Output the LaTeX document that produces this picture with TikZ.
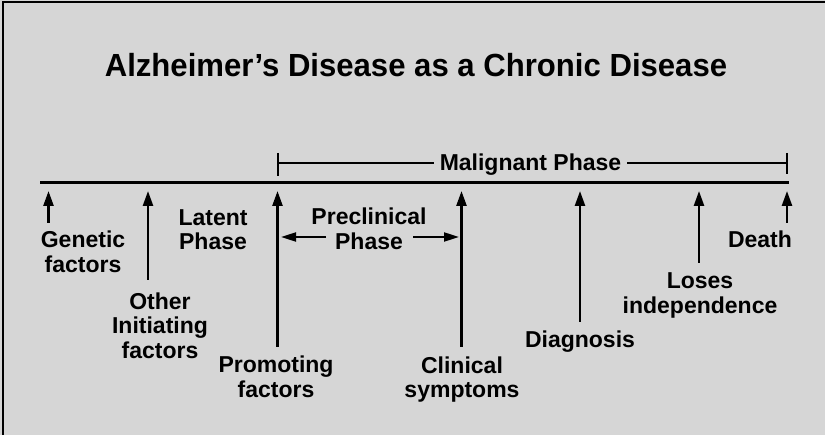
\documentclass[tikz,border=0pt]{standalone}
\usepackage{fontspec}
\setmainfont{Liberation Sans}
\usetikzlibrary{arrows.meta}
\definecolor{bg}{RGB}{214,214,214}
\tikzset{
  lbl/.style={font=\bfseries\fontsize{23}{24.5}\selectfont, align=center, inner sep=0pt, anchor=north},
  ttl/.style={font=\bfseries\fontsize{32}{33}\selectfont, inner sep=0pt, anchor=base, xscale=0.972, transform shape},
  uparr/.style={line width=2.5pt, -{Triangle[length=15pt,width=10pt]}},
  sidearr/.style={line width=2pt, -{Triangle[length=15pt,width=9pt]}},
  timeline/.style={line width=3pt},
  bracket/.style={line width=1.6pt}
}
\begin{document}
\begin{tikzpicture}[x=1pt,y=-1pt]
\useasboundingbox (0,0) rectangle (825,435);
\fill[bg] (0,0) rectangle (825,435);
\draw[line width=2.5pt] (3,435) -- (3,2) -- (825,2);

\node[ttl] (title) at (416,76.5) {Alzheimer’s Disease as a Chronic Disease};

% timeline
\coordinate (tl0) at (40,183);
\coordinate (tl1) at (788.5,183);
\draw[timeline] (tl0) -- (tl1);

% malignant phase bracket
\coordinate (mL) at (278,163);
\coordinate (mR) at (787,163);
\coordinate (mLt) at (278,153);
\coordinate (mLb) at (278,176);
\coordinate (mRt) at (787,153);
\coordinate (mRb) at (787,174);
\node[font=\bfseries\fontsize{23}{24.5}\selectfont, inner xsep=6pt, inner ysep=0pt, anchor=base] (mal) at (530.5,171) {Malignant Phase};
\draw[bracket] (mLt) -- (mLb);
\draw[bracket] (mRt) -- (mRb);
\draw[bracket] (mL) -- (mal.west |- mL);
\draw[bracket] (mal.east |- mR) -- (mR);

% labels
\node[lbl] (gen) at (83,231) {Genetic\\factors};
\node[lbl] (oth) at (160,292.5) {Other\\Initiating\\factors};
\node[lbl] (lat) at (213,209) {Latent\\Phase};
\node[lbl] (pro) at (276,356) {Promoting\\factors};
\node[lbl] (pre) at (369,208) {Preclinical\\Phase};
\node[lbl] (cli) at (462,356.5) {Clinical\\symptoms};
\node[lbl] (dia) at (580,330.5) {Diagnosis};
\node[lbl] (los) at (700,272.5) {Loses\\independence};
\node[lbl] (dea) at (760,230.5) {Death};

% arrow end points
\coordinate (a1s) at (48.5,223);  \coordinate (a1e) at (48.5,191);
\coordinate (a2s) at (148,280);   \coordinate (a2e) at (148,191);
\coordinate (a3s) at (277.5,347); \coordinate (a3e) at (277.5,191);
\coordinate (a4s) at (461.5,347); \coordinate (a4e) at (461.5,191);
\coordinate (a5s) at (580,322);   \coordinate (a5e) at (580,191);
\coordinate (a6s) at (699,263);   \coordinate (a6e) at (699,191);
\coordinate (a7s) at (787,223);   \coordinate (a7e) at (787,191);
\draw[uparr] (a1s) -- (a1e);
\draw[uparr] (a2s) -- (a2e);
\draw[uparr] (a3s) -- (a3e);
\draw[uparr] (a4s) -- (a4e);
\draw[uparr] (a5s) -- (a5e);
\draw[uparr] (a6s) -- (a6e);
\draw[uparr] (a7s) -- (a7e);

% preclinical arrows
\coordinate (pl0) at (326,237); \coordinate (pl1) at (281,237);
\coordinate (pr0) at (413,237); \coordinate (pr1) at (459,237);
\draw[sidearr] (pl0) -- (pl1);
\draw[sidearr] (pr0) -- (pr1);
\end{tikzpicture}
\end{document}
